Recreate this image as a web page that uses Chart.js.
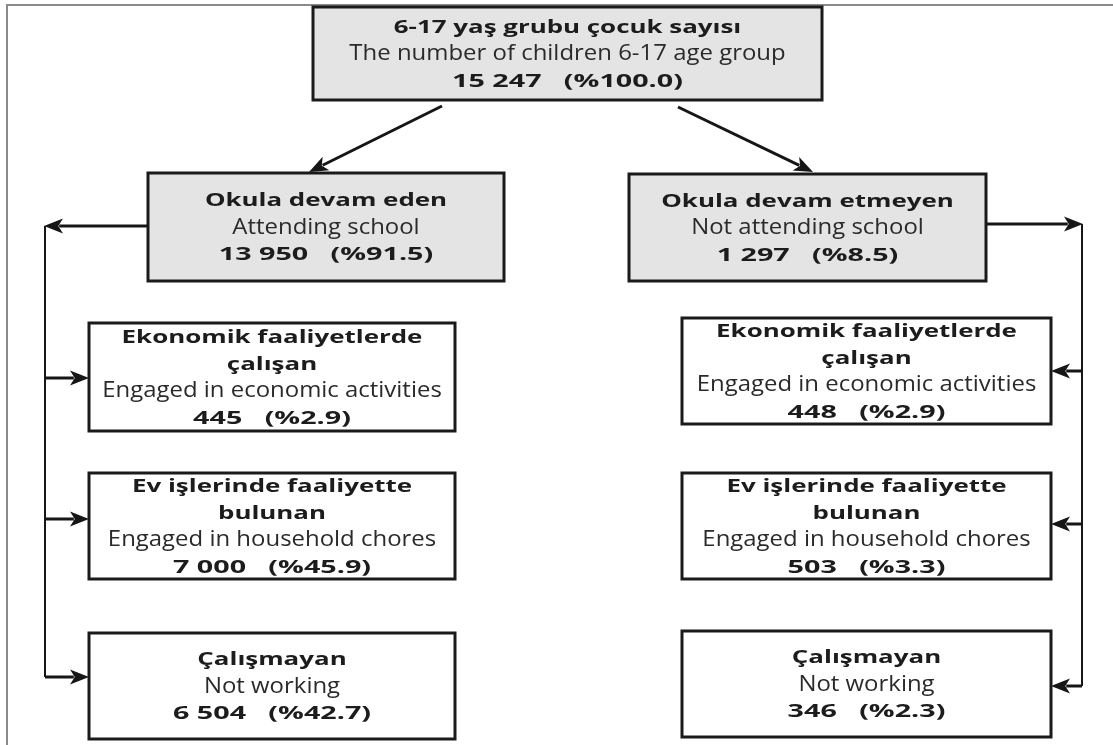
<!DOCTYPE html>
<html>
<head>
<meta charset="utf-8">
<script src="https://cdn.jsdelivr.net/npm/chart.js@4.4.0/dist/chart.umd.min.js"></script>
<style>
    body { margin: 0; background: #fff; }
    #wrap { width: 1113px; height: 745px; }
</style>
</head>
<body>
<div id="wrap"><canvas id="flowChart" width="1113" height="745"></canvas></div>
<script>
// node labels and figures
const titlesTr = [
    "6-17 yaş grubu çocuk sayısı",
    "Okula devam eden",
    "Okula devam etmeyen",
    "Ekonomik faaliyetlerde\nçalışan",
    "Ev işlerinde faaliyette\nbulunan",
    "Çalışmayan",
    "Ekonomik faaliyetlerde\nçalışan",
    "Ev işlerinde faaliyette\nbulunan",
    "Çalışmayan"
];
const titlesEn = [
    "The number of children 6-17 age group",
    "Attending school",
    "Not attending school",
    "Engaged in economic activities",
    "Engaged in household chores",
    "Not working",
    "Engaged in economic activities",
    "Engaged in household chores",
    "Not working"
];
const counts = [15247, 13950, 1297, 445, 7000, 6504, 448, 503, 346];
const shares = [100.0, 91.5, 8.5, 2.9, 45.9, 42.7, 2.9, 3.3, 2.3];

// layout, in axis units (x0, y0, x1, y1)
const boxes = [
    [313, 7, 822, 100],
    [148, 173, 504, 281],
    [629, 174, 986, 281],
    [89, 323, 455, 431],
    [89, 473, 455, 579],
    [89, 633, 455, 739],
    [682, 318, 1051, 424],
    [682, 473, 1051, 579],
    [682, 631, 1051, 737]
];
const shaded = [true, true, true, false, false, false, false, false, false];

// connectors: [points, arrow at end?, line width]
const links = [
    [[[442, 106], [309, 172]], true, 3],
    [[[678, 107], [813, 172]], true, 3],
    [[[148, 226], [44, 226]], true, 3],
    [[[45, 226], [45, 677]], false, 2],
    [[[45, 378], [89, 378]], true, 3],
    [[[45, 519], [89, 519]], true, 3],
    [[[45, 677], [89, 677]], true, 3],
    [[[986, 224], [1083, 224]], true, 3],
    [[[1082, 224], [1082, 686]], false, 2],
    [[[1082, 371], [1051, 371]], true, 3],
    [[[1082, 524], [1051, 524]], true, 3],
    [[[1082, 686], [1051, 686]], true, 3]
];

function fmtCount(n) {
    return String(n).replace(/\B(?=(\d{3})+(?!\d))/g, " ");
}

const flowPlugin = {
    id: "flow",
    afterDatasetsDraw(chart) {
        const ctx = chart.ctx;
        const xs = chart.scales.x, ys = chart.scales.y;
        const px = v => xs.getPixelForValue(v);
        const py = v => ys.getPixelForValue(v);

        ctx.save();

        // page frame
        ctx.strokeStyle = "#8a8a8a";
        ctx.lineWidth = 2;
        ctx.beginPath();
        ctx.moveTo(px(1113), py(5));
        ctx.lineTo(px(7), py(5));
        ctx.lineTo(px(7), py(745));
        ctx.stroke();

        // connectors
        ctx.strokeStyle = "#161616";
        ctx.fillStyle = "#161616";
        links.forEach(([pts, arrow, lw]) => {
            const p = pts.map(q => [px(q[0]), py(q[1])]);
            const a = p[p.length - 2], b = p[p.length - 1];
            const ang = Math.atan2(b[1] - a[1], b[0] - a[0]);
            const head = 19, half = 7.5;
            let end = b;
            if (arrow) end = [b[0] - Math.cos(ang) * head * 0.8, b[1] - Math.sin(ang) * head * 0.8];
            ctx.lineWidth = lw;
            ctx.beginPath();
            ctx.moveTo(p[0][0], p[0][1]);
            for (let i = 1; i < p.length - 1; i++) ctx.lineTo(p[i][0], p[i][1]);
            ctx.lineTo(end[0], end[1]);
            ctx.stroke();
            if (arrow) {
                const bx = b[0] - Math.cos(ang) * head, by = b[1] - Math.sin(ang) * head;
                ctx.beginPath();
                ctx.moveTo(b[0], b[1]);
                ctx.lineTo(bx + Math.sin(ang) * half, by - Math.cos(ang) * half);
                ctx.lineTo(b[0] - Math.cos(ang) * head * 0.75, b[1] - Math.sin(ang) * head * 0.75);
                ctx.lineTo(bx - Math.sin(ang) * half, by + Math.cos(ang) * half);
                ctx.closePath();
                ctx.fill();
            }
        });

        // boxes and their text
        boxes.forEach((bx, i) => {
            const x0 = px(bx[0]), y0 = py(bx[1]), x1 = px(bx[2]), y1 = py(bx[3]);
            if (shaded[i]) {
                ctx.fillStyle = "#e4e4e4";
                ctx.fillRect(x0, y0, x1 - x0, y1 - y0);
            }
            ctx.strokeStyle = "#1a1a1a";
            ctx.lineWidth = 3;
            ctx.strokeRect(x0, y0, x1 - x0, y1 - y0);

            // [text, weight, size, horizontal stretch]
            const lines = [];
            titlesTr[i].split("\n").forEach(t => lines.push([t, "bold", 18.5, 1.4]));
            lines.push([titlesEn[i], "normal", 21, 1.14]);
            lines.push([fmtCount(counts[i]) + "   (%" + shares[i].toFixed(1) + ")", "bold", 18.5, 1.55]);

            const lh = 27;
            const cx = (x0 + x1) / 2;
            let ty = (y0 + y1) / 2 - (lines.length - 1) * lh / 2 + 1;
            ctx.textAlign = "center";
            ctx.textBaseline = "middle";
            lines.forEach(([t, w, fs, sx]) => {
                ctx.font = w + " " + fs + "px 'Open Sans', 'Noto Sans', sans-serif";
                ctx.fillStyle = w === "normal" ? "#2a2a2a" : "#1c1c1c";
                ctx.save();
                ctx.translate(cx, ty);
                ctx.scale(sx, 1);
                ctx.fillText(t, 0, 0);
                ctx.restore();
                ty += lh;
            });
        });

        ctx.restore();
    }
};

const ctx = document.getElementById("flowChart").getContext("2d");

let chart = new Chart(ctx, {
    type: "scatter",
    data: {
        datasets: [{
            label: "nodes",
            data: boxes.map((b, i) => ({ x: (b[0] + b[2]) / 2, y: (b[1] + b[3]) / 2, v: counts[i] })),
            pointRadius: 0,
            pointHoverRadius: 0
        }]
    },
    options: {
        responsive: false,
        animation: false,
        devicePixelRatio: 1,
        layout: { padding: 0 },
        plugins: {
            legend: { display: false },
            tooltip: { enabled: false }
        },
        scales: {
            x: { type: "linear", min: 0, max: 1113, display: false },
            y: { type: "linear", min: 0, max: 745, reverse: true, display: false }
        }
    },
    plugins: [flowPlugin]
});
</script>
</body>
</html>
